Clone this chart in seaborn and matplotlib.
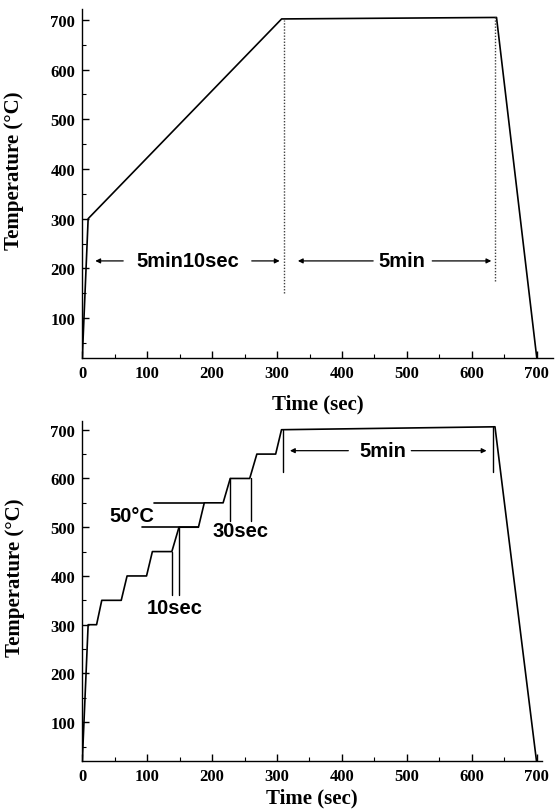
import matplotlib
matplotlib.use("Agg")
import matplotlib.pyplot as plt
from matplotlib.ticker import MultipleLocator
import seaborn as sns
import pandas as pd

# ---- data ----
top_time = [0, 9, 307, 638, 700]
top_temp = [20, 300, 702, 705, 20]

bottom_time = [0, 9, 22, 30, 60, 69, 99, 108, 138, 149, 179, 188, 217, 228,
               258, 269, 298, 307, 636, 700]
bottom_temp = [20, 300, 300, 350, 350, 400, 400, 450, 450, 500, 500, 550, 550,
               600, 600, 650, 650, 700, 706, 20]

x_ticks = [0, 100, 200, 300, 400, 500, 600, 700]
y_ticks = [100, 200, 300, 400, 500, 600, 700]

xlabel = "Time (sec)"
ylabel = "Temperature (°C)"

sns.set_style("ticks")
plt.rcParams['font.family'] = ['Liberation Serif', 'DejaVu Serif']
plt.rcParams.update({
    "text.color": "black",
    "axes.labelcolor": "black",
    "xtick.color": "black",
    "ytick.color": "black",
    "axes.edgecolor": "black",
})

fig = plt.figure(figsize=(5.58, 8.12), dpi=100)
W, H = 558, 812


def make_ax(left, right, top, bottom):
    return fig.add_axes([left / W, 1 - bottom / H, (right - left) / W, (bottom - top) / H])


ax1 = make_ax(82.3, 553, 10, 359.3)
ax2 = make_ax(82.3, 541.7, 421.7, 761.7)

df1 = pd.DataFrame({"t": top_time, "T": top_temp})
df2 = pd.DataFrame({"t": bottom_time, "T": bottom_temp})
sns.lineplot(data=df1, x="t", y="T", ax=ax1, color="black", lw=1.2,
             sort=False, estimator=None)
sns.lineplot(data=df2, x="t", y="T", ax=ax2, color="black", lw=1.2,
             sort=False, estimator=None)

ax1.set_xlim(0, 725)
ax1.set_ylim(19, 722)
ax2.set_xlim(0, 708)
ax2.set_ylim(21, 718.5)

for ax, lab_y in ((ax1, -0.102), (ax2, -0.08)):
    sns.despine(ax=ax)
    ax.set_xticks(x_ticks)
    ax.set_yticks(y_ticks)
    ax.xaxis.set_minor_locator(MultipleLocator(50))
    ax.yaxis.set_minor_locator(MultipleLocator(50))
    ax.tick_params(which="major", direction="in", length=5, width=1, pad=5,
                   labelsize=12, colors="black")
    ax.tick_params(which="minor", direction="in", length=3, width=0.8,
                   colors="black")
    for t in ax.get_xticklabels() + ax.get_yticklabels():
        t.set_fontweight("bold")
    for s in ("left", "bottom"):
        ax.spines[s].set_linewidth(1.0)
        ax.spines[s].set_color("black")
    ax.set_xlabel(xlabel, fontsize=15, fontweight="bold", color="black")
    ax.set_ylabel(ylabel, fontsize=15, fontweight="bold", color="black")
    ax.xaxis.set_label_coords(0.5, lab_y)
    ax.yaxis.set_label_coords(-0.124, 0.54)

ann_font = dict(family=["Liberation Sans", "DejaVu Sans"], fontweight="bold",
                fontsize=14.5, ha="center", va="center", color="black")
arrow = dict(arrowstyle="-|>", lw=0.9, color="black", mutation_scale=7,
             shrinkA=0, shrinkB=0)

# ---- top annotations ----
ax1.plot([310, 310], [150, 700], color="0.25", lw=1, ls=(0, (1, 1.2)))
ax1.plot([635, 635], [175, 705], color="0.25", lw=1, ls=(0, (1, 1.2)))
ax1.text(163, 215, "5min10sec", **ann_font)
ax1.annotate("", xy=(20, 215), xytext=(63, 215), arrowprops=arrow)
ax1.annotate("", xy=(304, 215), xytext=(261, 215), arrowprops=arrow)
ax1.text(492, 215, "5min", **ann_font)
ax1.annotate("", xy=(332, 215), xytext=(448, 215), arrowprops=arrow)
ax1.annotate("", xy=(630, 215), xytext=(539, 215), arrowprops=arrow)

# ---- bottom annotations ----
ax2.plot([309, 309], [614, 700], color="black", lw=1)
ax2.plot([633, 633], [614, 706], color="black", lw=1)
ax2.text(463, 657, "5min", **ann_font)
ax2.annotate("", xy=(320, 657), xytext=(410, 657), arrowprops=arrow)
ax2.annotate("", xy=(623, 657), xytext=(507, 657), arrowprops=arrow)

ax2.plot([92, 179], [500, 500], color="black", lw=1.2)
ax2.plot([110, 188], [550, 550], color="black", lw=1.2)
ax2.text(76, 525, "50°C", **ann_font)

ax2.plot([138, 138], [360, 450], color="black", lw=1)
ax2.plot([149, 149], [360, 500], color="black", lw=1)
ax2.text(143, 336, "10sec", **ann_font)

ax2.plot([228, 228], [513, 600], color="black", lw=1)
ax2.plot([259.5, 259.5], [513, 600], color="black", lw=1)
ax2.text(244, 493, "30sec", **ann_font)

fig.savefig("out.png", dpi=100)
